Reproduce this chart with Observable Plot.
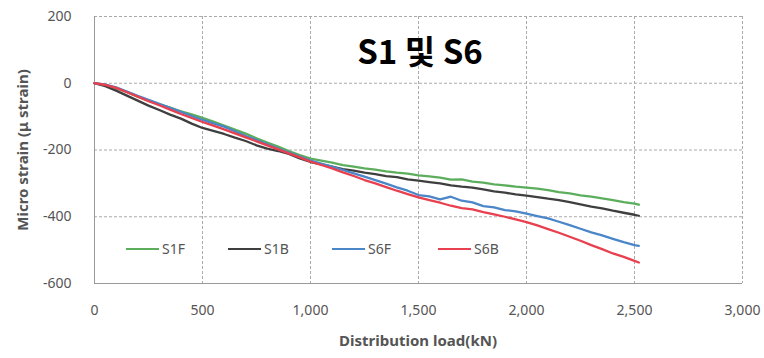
<!DOCTYPE html>
<html>
<head>
<meta charset="utf-8">
<script src="https://cdn.jsdelivr.net/npm/d3@7"></script>
<script src="https://cdn.jsdelivr.net/npm/@observablehq/plot@0.6"></script>
<style>
  body { margin: 0; background: #fff; }
  #wrap { position: relative; width: 764px; height: 358px; font-family: "Noto Sans", sans-serif; }
  .ov { position: absolute; white-space: nowrap; }
  .leg { position: absolute; font-size: 14px; color: #555; line-height: 1; }
  .leg span.sw { display: inline-block; width: 33px; height: 2px; vertical-align: middle; margin-right: 3px; position: relative; top: -1px; }
</style>
</head>
<body>
<div id="wrap"></div>
<script>
const loads = [0,50,100,150,200,250,300,350,400,450,500,550,600,650,700,750,800,850,900,950,1000,1050,1100,1150,1200,1250,1300,1350,1400,1450,1500,1550,1600,1650,1700,1750,1800,1850,1900,1950,2000,2050,2100,2150,2200,2250,2300,2350,2400,2450,2500,2520];
const S1F = [0,-5,-15,-26,-40,-52,-63,-73,-84,-93,-104,-115,-127,-139,-151,-165,-178,-190,-203,-215,-226,-232,-238,-245,-250,-255,-259,-264,-268,-271,-276,-279,-283,-289,-288,-295,-298,-303,-306,-310,-313,-316,-320,-326,-330,-336,-340,-345,-350,-356,-361,-364];
const S1B = [0,-9,-22,-37,-52,-67,-80,-94,-106,-121,-134,-143,-152,-163,-173,-186,-196,-203,-212,-225,-236,-243,-250,-257,-262,-268,-272,-278,-281,-288,-292,-296,-300,-306,-310,-313,-318,-324,-328,-333,-337,-341,-346,-350,-356,-363,-370,-375,-382,-388,-394,-397];
const S6F = [0,-4,-12,-25,-38,-50,-62,-74,-86,-98,-110,-120,-130,-144,-158,-170,-183,-196,-208,-220,-232,-241,-250,-260,-270,-280,-290,-301,-312,-322,-335,-339,-348,-340,-352,-357,-368,-372,-380,-384,-391,-398,-405,-415,-425,-436,-447,-456,-466,-476,-485,-487];
const S6B = [0,-5,-14,-27,-40,-54,-66,-79,-92,-104,-116,-127,-138,-150,-162,-174,-186,-198,-210,-222,-235,-245,-255,-267,-278,-290,-300,-311,-322,-332,-342,-350,-358,-367,-374,-378,-386,-393,-400,-408,-416,-426,-437,-448,-460,-472,-485,-497,-510,-520,-532,-537];
const seriesNames = ["S1F","S1B","S6F","S6B"];
const seriesColors = ["#5cae5c","#3f3f3f","#4a86c8","#e8404f"];
const xTicks = [0,500,1000,1500,2000,2500,3000];
const yTicks = [-600,-400,-200,0,200];
const title = "S1 및 S6";
const xLabel = "Distribution load(kN)";
const yLabel = "Micro strain (μ strain)";

const seriesVals = [S1F,S1B,S6F,S6B];
const data = [];
seriesNames.forEach((s,i) => loads.forEach((x,j) => data.push({series:s, x, y:seriesVals[i][j]})));

const chart = Plot.plot({
  width: 764, height: 358,
  marginLeft: 94, marginRight: 22, marginTop: 16, marginBottom: 75,
  x: {domain: [0,3000]},
  y: {domain: [-600,200]},
  color: {domain: seriesNames, range: seriesColors},
  style: {fontFamily: "Noto Sans", fontSize: "14px", color: "#555", background: "#fff"},
  marks: [
    Plot.gridX(xTicks.filter(d => d > 0), {stroke: "#aaa", strokeOpacity: 1, strokeDasharray: "3,2"}),
    Plot.gridY(yTicks.filter(d => d > -600), {stroke: "#aaa", strokeOpacity: 1, strokeDasharray: "3,2"}),
    Plot.ruleX([0], {stroke: "#999"}),
    Plot.ruleY([-600], {stroke: "#999"}),
    Plot.axisX({ticks: xTicks, tickSize: 0, tickPadding: 22, tickFormat: d3.format(","), label: null}),
    Plot.axisY({ticks: yTicks, tickSize: 0, tickPadding: 23, tickFormat: d => String(d), label: null}),
    Plot.line(data, {x: "x", y: "y", z: "series", stroke: "series", strokeWidth: 2.3})
  ]
});

const wrap = document.getElementById("wrap");
wrap.appendChild(chart);

function ov(html, style) {
  const d = document.createElement("div");
  d.className = "ov";
  d.innerHTML = html;
  Object.assign(d.style, style);
  wrap.appendChild(d);
  return d;
}
ov(title, {left: "420px", top: "50px", transform: "translate(-50%,-50%)", fontFamily: "'Noto Sans CJK KR', sans-serif", fontWeight: "bold", fontSize: "33px", color: "#000"});
ov(xLabel, {left: "418px", top: "340px", transform: "translate(-50%,-50%)", fontWeight: "bold", fontSize: "15px", color: "#555"});
ov(yLabel, {left: "22px", top: "150px", transform: "translate(-50%,-50%) rotate(-90deg)", fontWeight: "bold", fontSize: "15px", color: "#555"});

const legX = [126, 228, 332, 438];
seriesNames.forEach((s,i) => {
  const d = document.createElement("div");
  d.className = "leg";
  d.innerHTML = `<span class="sw" style="background:${seriesColors[i]}"></span>${s}`;
  d.style.left = legX[i] + "px";
  d.style.top = "242px";
  wrap.appendChild(d);
});
</script>
</body>
</html>
